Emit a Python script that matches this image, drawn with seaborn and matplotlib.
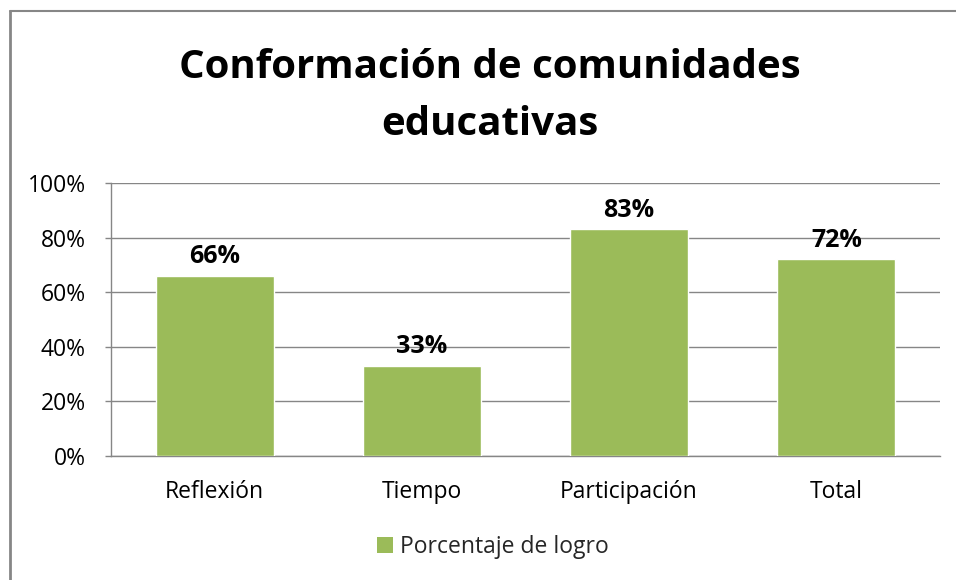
import matplotlib
matplotlib.use("Agg")
import matplotlib.pyplot as plt
import seaborn as sns
import pandas as pd
from matplotlib.lines import Line2D
from matplotlib.patches import Patch

categories = ["Reflexión", "Tiempo", "Participación", "Total"]
values = [66, 33, 83, 72]
series_name = "Porcentaje de logro"
yticks = [0, 20, 40, 60, 80, 100]
title = "Conformación de comunidades\neducativas"

df = pd.DataFrame({"cat": categories, "val": values})

sns.set_theme(style="white")
plt.rcParams["font.family"] = ["Open Sans", "DejaVu Sans"]

W, H = 956, 580
fig = plt.figure(figsize=(W / 100, H / 100), dpi=100)
ax = fig.add_axes([111 / W, 1 - 456 / H, (940 - 111) / W, (456 - 183) / H])

green = "#9BBB59"
sns.barplot(data=df, x="cat", y="val", color=green, width=0.57, ax=ax,
            saturation=1, zorder=3)

ax.set_ylim(0, 100)
ax.set_xlim(-0.5, 3.5)
ax.set_yticks(yticks)
ax.set_yticklabels([f"{t}%" for t in yticks], fontsize=16.5, color="#000000")
ax.tick_params(axis="x", labelsize=16.5, colors="#000000", length=0, pad=17)
ax.tick_params(axis="y", length=4.3, width=1, color="#868686", pad=14, left=True)
ax.set_xlabel("")
ax.set_ylabel("")
ax.grid(axis="y", color="#868686", linewidth=1, zorder=0)
for s in ["top", "right"]:
    ax.spines[s].set_visible(False)
for s in ["left", "bottom"]:
    ax.spines[s].set_color("#868686")
    ax.spines[s].set_linewidth(1)

for i, v in enumerate(values):
    ax.text(i, v + 2.5, f"{v}%", ha="center", va="bottom", fontsize=18,
            fontweight="bold", color="#000000")

fig.text(490 / W, 1 - 96 / H, title, ha="center", va="center",
         fontsize=29, fontweight="bold", color="#000000", linespacing=1.6)

handles = [Patch(facecolor=green, edgecolor="none")]
fig.legend(handles, [series_name], loc="center", bbox_to_anchor=(493 / W, 1 - 547 / H),
           frameon=False, fontsize=16.5, handlelength=0.7, handleheight=0.7,
           handletextpad=0.3)

# outer chart border (partially visible)
fig.add_artist(Line2D([10 / W, 10 / W], [0, 1 - 11 / H], transform=fig.transFigure,
                      color="#868686", linewidth=2))
fig.add_artist(Line2D([10 / W, 1], [1 - 11 / H, 1 - 11 / H], transform=fig.transFigure,
                      color="#868686", linewidth=1.5))

fig.savefig("out.png", dpi=100)
